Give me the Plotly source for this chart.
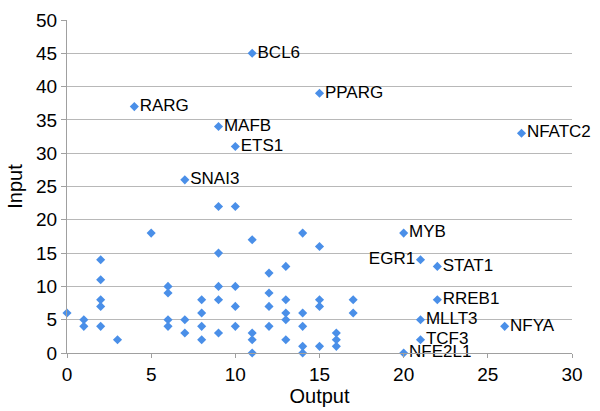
import plotly.graph_objects as go

# Unlabeled points (Output, Input)
out_vals = [0, 1, 1, 2, 2, 2, 2, 2, 3, 5, 6, 6, 6, 6, 7, 7, 8, 8, 8, 8,
            9, 9, 9, 9, 9, 10, 10, 10, 10, 11, 11, 11, 11, 12, 12, 12, 12,
            13, 13, 13, 13, 13, 14, 14, 14, 14, 14, 15, 15, 15, 15, 16, 16, 16, 17, 17]
in_vals = [6, 5, 4, 14, 11, 8, 7, 4, 2, 18, 10, 9, 5, 4, 5, 3, 8, 6, 4, 2,
           22, 15, 10, 8, 3, 22, 10, 7, 4, 17, 3, 2, 0, 12, 9, 7, 4,
           13, 8, 6, 5, 2, 18, 6, 4, 1, 0, 16, 8, 7, 1, 3, 2, 1, 8, 6]

# Labeled genes
genes = ["BCL6", "RARG", "MAFB", "ETS1", "SNAI3", "PPARG", "NFATC2", "MYB",
         "EGR1", "STAT1", "RREB1", "MLLT3", "NFYA", "TCF3", "NFE2L1"]
gene_out = [11, 4, 9, 10, 7, 15, 27, 20, 21, 22, 22, 21, 26, 21, 20]
gene_in = [45, 37, 34, 31, 26, 39, 33, 18, 14, 13, 8, 5, 4, 2, 0]
label_side = ["middle right"] * 8 + ["middle left"] + ["middle right"] * 6

marker_color = "#4a8fe8"
font_family = "Liberation Sans, Arial, Helvetica, sans-serif"

fig = go.Figure()
fig.add_trace(go.Scatter(
    x=out_vals, y=in_vals, mode="markers",
    marker=dict(symbol="diamond", size=7, color=marker_color),
    hoverinfo="skip", showlegend=False, cliponaxis=False))
fig.add_trace(go.Scatter(
    x=gene_out, y=gene_in, mode="markers+text", text=genes,
    textposition=label_side,
    textfont=dict(family=font_family, size=17, color="#000000"),
    marker=dict(symbol="diamond", size=7, color=marker_color),
    hoverinfo="skip", showlegend=False, cliponaxis=False))

fig.update_layout(
    width=600, height=411,
    margin=dict(l=67, r=28, t=20, b=58),
    paper_bgcolor="white", plot_bgcolor="white",
    font=dict(family=font_family, color="#000000"),
    xaxis=dict(range=[0, 30], dtick=5, showgrid=False, zeroline=False,
               showline=True, linecolor="#a0a0a0", linewidth=1,
               ticks="outside", ticklen=4, tickcolor="#a0a0a0",
               tickfont=dict(size=19), automargin=False,
               title=dict(text="Output", font=dict(size=20), standoff=2)),
    yaxis=dict(range=[0, 50], dtick=5, showgrid=True, gridcolor="#b8b8b8",
               gridwidth=1, zeroline=False,
               showline=True, linecolor="#a0a0a0", linewidth=1,
               ticks="outside", ticklen=5, tickcolor="#a0a0a0",
               tickfont=dict(size=19), automargin=False,
               title=dict(text="Input", font=dict(size=20), standoff=8)),
)

fig.write_html("out.html",
               config={"displayModeBar": False, "staticPlot": True},
               post_script="document.body.style.margin='0';document.body.style.overflow='hidden';")
